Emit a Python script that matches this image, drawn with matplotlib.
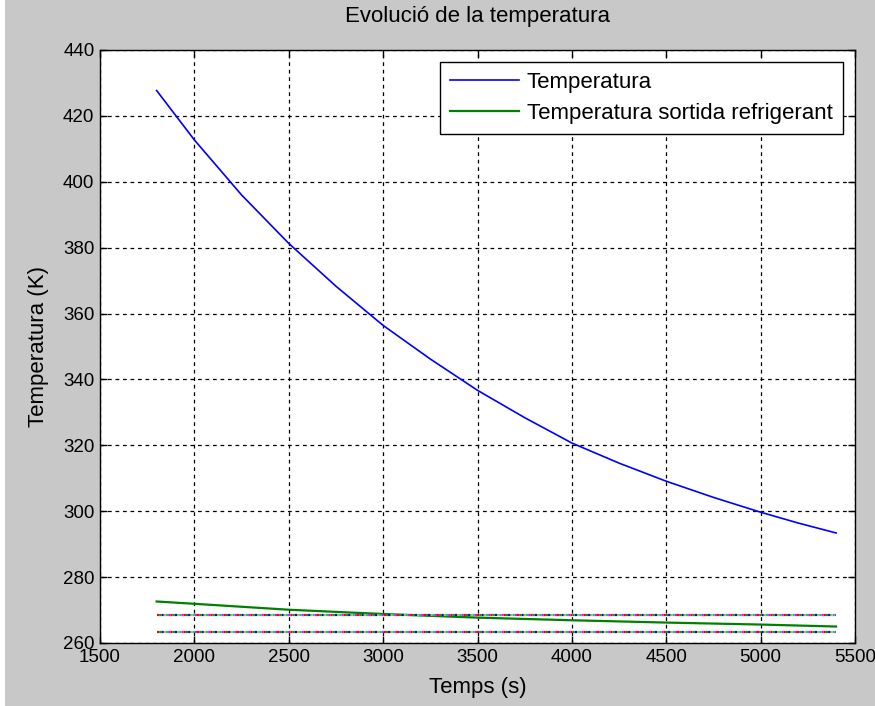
import matplotlib.pyplot as plt
import matplotlib.patches as patches

# dades llegides del gràfic
temps = [1800, 2000, 2250, 2500, 2750, 3000, 3250, 3500, 3750, 4000,
         4250, 4500, 4750, 5000, 5200, 5400]
temperatura = [427.7, 412.7, 396.0, 381.3, 368.3, 356.4, 346.2, 336.7, 328.4, 320.7,
               314.6, 309.1, 304.2, 299.7, 296.4, 293.4]

temps_ref = [1800, 2000, 2500, 3000, 3500, 4000, 4500, 5000, 5400]
temp_refrigerant = [272.6, 271.9, 270.1, 268.8, 267.7, 266.9, 266.2, 265.6, 265.0]

limits_t = [1800, 5400]
nivell_alt = 268.6
nivell_baix = 263.2

xticks = [1500, 2000, 2500, 3000, 3500, 4000, 4500, 5000, 5500]
yticks = [260, 280, 300, 320, 340, 360, 380, 400, 420, 440]

plt.rcParams['font.family'] = ['Liberation Sans', 'DejaVu Sans']

gris = '#c8c8c8'
fig = plt.figure(figsize=(8.75, 7.06), dpi=100, facecolor=gris)
fig.patches.append(patches.Rectangle((0, 0), 5 / 875, 1, transform=fig.transFigure,
                                     facecolor='white', edgecolor='none'))
ax = fig.add_axes([100 / 875, 1 - 643 / 706, 755 / 875, 593 / 706])
ax.set_facecolor('white')

ax.plot(temps, temperatura, color='#0000ff', linewidth=1.2, label='Temperatura')
ax.plot(temps_ref, temp_refrigerant, color='#008000', linewidth=1.6,
        label='Temperatura sortida refrigerant')

# línies de punts de colors (diverses sèries superposades)
colors = ['#ff0000', '#ff00ff', '#00c0c0', '#c0c000', '#0000ff', '#00a000']
for nivell in [nivell_alt, nivell_baix]:
    for i, c in enumerate(colors):
        ax.plot(limits_t, [nivell, nivell], color=c, linewidth=1.6,
                linestyle=(i * 1.0, (1, 5)))

ax.set_xlim(1500, 5500)
ax.set_ylim(260, 440)
ax.set_xticks(xticks)
ax.set_yticks(yticks)
ax.grid(True, color='black', linestyle=(0, (3, 3)), linewidth=0.9)
ax.tick_params(direction='in', top=True, right=True, length=5, width=1,
               labelsize=13.5, pad=4)
for s in ax.spines.values():
    s.set_linewidth(1)

ax.set_title('Evolució de la temperatura', fontsize=16, pad=20)
ax.set_xlabel('Temps (s)', fontsize=16, labelpad=8)
ax.set_ylabel('Temperatura (K)', fontsize=16, labelpad=10)

leg = ax.legend(loc='upper right', fontsize=16, handlelength=3.1, fancybox=False,
                framealpha=1, edgecolor='black', borderaxespad=0.55,
                labelspacing=0.45, handletextpad=0.35, borderpad=0.45)
leg.get_frame().set_linewidth(1)

fig.savefig('out.png', dpi=100, facecolor=gris)
